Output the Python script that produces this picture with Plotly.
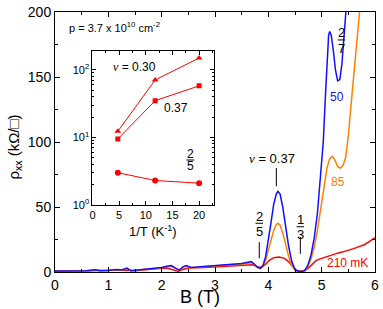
import plotly.graph_objects as go

# ---- main panel data: rho_xx (kOhm/sq) vs B (T) ----
B_50 = [0.00, 0.30, 0.60, 0.75, 0.85, 1.00, 1.15, 1.25, 1.35, 1.42, 1.55, 1.70, 1.85, 2.00, 2.10, 2.18,
        2.26, 2.33, 2.40, 2.46, 2.55, 2.70, 2.90, 3.10, 3.30, 3.50, 3.62, 3.68, 3.74, 3.80, 3.85, 3.90,
        3.95, 4.00, 4.05, 4.10, 4.15, 4.18, 4.22, 4.27, 4.32, 4.38, 4.44, 4.50, 4.56, 4.62, 4.68, 4.74,
        4.80, 4.86, 4.92, 4.98, 5.03, 5.07, 5.10, 5.13, 5.15, 5.18, 5.22, 5.26, 5.30, 5.34, 5.38, 5.42,
        5.46, 5.50]
rho_50 = [0.8, 0.8, 1.0, 1.8, 1.0, 1.2, 2.0, 1.5, 3.0, 1.0, 1.5, 2.5, 3.0, 3.5, 4.5, 5.0,
          3.0, 1.5, 4.0, 5.0, 3.5, 4.0, 5.0, 5.5, 6.0, 6.5, 7.5, 8.0, 6.0, 3.5, 2.8, 5.0,
          12, 24, 38, 52, 60, 62, 60, 50, 36, 20, 8, 2, 0.5, 0.3, 1.0, 5,
          13, 26, 45, 72, 100, 135, 165, 182, 185, 182, 170, 155, 147, 148, 160, 180,
          200, 225]

B_85 = [0.00, 0.30, 0.60, 0.75, 0.85, 1.00, 1.15, 1.25, 1.35, 1.42, 1.55, 1.70, 1.85, 2.00, 2.10, 2.18,
        2.26, 2.33, 2.40, 2.46, 2.55, 2.70, 2.90, 3.10, 3.30, 3.50, 3.62, 3.68, 3.74, 3.80, 3.85, 3.90,
        3.95, 4.00, 4.05, 4.10, 4.15, 4.18, 4.22, 4.27, 4.32, 4.38, 4.44, 4.50, 4.56, 4.62, 4.68, 4.74,
        4.80, 4.86, 4.92, 4.98, 5.04, 5.10, 5.15, 5.20, 5.25, 5.30, 5.35, 5.40, 5.45, 5.50, 5.55, 5.60,
        5.65, 5.71, 5.76]
rho_85 = [0.7, 0.7, 0.9, 1.6, 0.9, 1.1, 1.8, 1.4, 2.6, 1.0, 1.4, 2.3, 2.8, 3.2, 4.0, 4.4,
          2.8, 1.4, 3.6, 4.5, 3.3, 3.8, 4.7, 5.2, 5.6, 6.0, 6.8, 7.2, 5.6, 3.4, 3.0, 4.5,
          9, 16, 25, 32, 36.5, 37.5, 36, 30, 22, 12, 5, 1.5, 0.5, 0.3, 1.0, 4,
          10, 19, 32, 48, 65, 80, 87, 89, 86, 81, 80, 82, 88, 105, 128, 151,
          173, 200, 222]

B_210 = [0.0, 0.5, 1.0, 1.3, 1.5, 1.7, 1.9, 2.1, 2.2, 2.31, 2.4, 2.5, 2.8, 3.2, 3.5, 3.7,
         3.8, 3.87, 3.95, 4.02, 4.10, 4.20, 4.30, 4.38, 4.45, 4.52, 4.60, 4.68, 4.75, 4.82, 4.90, 5.00,
         5.10, 5.20, 5.30, 5.40, 5.50, 5.60, 5.70, 5.80, 5.90, 6.00]
rho_210 = [0.5, 0.8, 1.0, 1.5, 1.0, 2.0, 2.5, 3.0, 2.0, 0.5, 2.0, 3.0, 3.5, 4.5, 5.0, 5.5,
           4.0, 3.5, 6, 9, 11, 11.5, 10.5, 8, 4.5, 1.5, 0.5, 1.0, 3, 6, 9, 10.5,
           12, 13.5, 14.5, 15.5, 16.5, 18, 19.5, 21, 23.5, 26.5]

# ---- inset data: rho_xx (kOhm/sq) vs 1/T (1/K) ----
inv_T = [4.76, 11.76, 20.0]
rho_nu030 = [12.3, 71, 150]
rho_nu037 = [9.5, 35, 58]
rho_nu25 = [3.0, 2.3, 2.1]

x_ticks_main = [0, 1, 2, 3, 4, 5, 6]
y_ticks_main = [0, 50, 100, 150, 200]
inset_x_ticks = [0, 5, 10, 15, 20]
inset_y_ticks = [1, 10, 100]
inset_y_text = ["10<sup>0</sup>", "10<sup>1</sup>", "10<sup>2</sup>"]

BLUE = "#1010ff"
ORANGE = "#ff8000"
RED = "#ff0000"
FONT = "Liberation Sans, Arial, sans-serif"
NU = '<span style="font-family:Liberation Serif"><i>ν</i></span>'

fig = go.Figure()
fig.add_trace(go.Scatter(x=B_210, y=rho_210, mode="lines", line=dict(color=RED, width=1.5), xaxis="x", yaxis="y"))
fig.add_trace(go.Scatter(x=B_85, y=rho_85, mode="lines", line=dict(color=ORANGE, width=1.5), xaxis="x", yaxis="y"))
fig.add_trace(go.Scatter(x=B_50, y=rho_50, mode="lines", line=dict(color=BLUE, width=1.5), xaxis="x", yaxis="y"))

fig.add_trace(go.Scatter(x=inv_T, y=rho_nu030, mode="lines+markers", line=dict(color=RED, width=1),
                         marker=dict(symbol="triangle-up", size=6, color=RED), xaxis="x2", yaxis="y2"))
fig.add_trace(go.Scatter(x=inv_T, y=rho_nu037, mode="lines+markers", line=dict(color=RED, width=1),
                         marker=dict(symbol="square", size=5, color=RED), xaxis="x2", yaxis="y2"))
fig.add_trace(go.Scatter(x=inv_T, y=rho_nu25, mode="lines+markers", line=dict(color=RED, width=1),
                         marker=dict(symbol="circle", size=6, color=RED), xaxis="x2", yaxis="y2"))

axis_common = dict(showline=True, linecolor="black", linewidth=1, mirror="ticks", ticks="inside",
                   tickcolor="black", showgrid=False, zeroline=False, ticklabeloverflow="allow")

fig.update_layout(
    width=383, height=309, margin=dict(l=55, r=4, t=12, b=37),
    paper_bgcolor="white", plot_bgcolor="white", showlegend=False,
    font=dict(family=FONT, color="black"),
    xaxis=dict(range=[0, 6], tickvals=x_ticks_main, ticklen=5, tickfont=dict(size=14),
               minor=dict(dtick=0.5, ticks="inside", ticklen=3, tickcolor="black"), **axis_common),
    yaxis=dict(range=[0, 200], tickvals=y_ticks_main, ticklen=5, tickfont=dict(size=14),
               minor=dict(dtick=25, ticks="inside", ticklen=3, tickcolor="black"), **axis_common),
    xaxis2=dict(domain=[0.117, 0.497], anchor="y2", range=[0, 22.8], tickvals=inset_x_ticks, ticklen=4,
                tickfont=dict(size=11), minor=dict(dtick=2.5, ticks="inside", ticklen=2, tickcolor="black"),
                **axis_common),
    yaxis2=dict(domain=[0.258, 0.85], anchor="x2", type="log", range=[0, 2.28], tickvals=inset_y_ticks,
                ticktext=inset_y_text, ticklen=4, tickfont=dict(size=11),
                minor=dict(ticks="inside", ticklen=2, tickcolor="black", dtick="D1"), **axis_common),
)

ann = []
def A(text, x, y, size=12, color="black", xref="x", yref="y", **kw):
    d = dict(text=text, x=x, y=y, xref=xref, yref=yref, showarrow=False,
             xanchor="center", yanchor="middle",
             font=dict(size=size, color=color, family=FONT))
    d.update(kw)
    ann.append(d)

A("p = 3.7 x 10<sup>10</sup> cm<sup>-2</sup>", 0.22, 188.5, size=11, xanchor="left")
A("2", 5.37, 184, size=13)
A("7", 5.37, 172, size=13)
A("50", 5.29, 134.8, size=12, color=BLUE)
A("85", 5.31, 69, size=12, color=ORANGE)
A("210 mK", 5.49, 6.9, size=12, color=RED)
A(NU + " = 0.37", 4.06, 87, size=13)
A("2", 3.83, 43, size=13)
A("5", 3.83, 31.5, size=13)
A("1", 4.60, 40.5, size=13)
A("3", 4.60, 29, size=13)
# titles
A("B (T)", 0.454, -0.095, size=18, xref="paper", yref="paper")
A("ρ<sub>xx</sub> (kΩ/□)", -0.127, 0.48, size=15, xref="paper", yref="paper", textangle=-90)
# inset texts
A(NU + " = 0.30", (135 - 55) / 324, (272 - 66.7) / 260, size=12, xref="paper", yref="paper")
A("0.37", (177.5 - 55) / 324, (272 - 108.3) / 260, size=12, xref="paper", yref="paper")
A("2", (191.7 - 55) / 324, (272 - 154) / 260, size=12, xref="paper", yref="paper")
A("5", (191.7 - 55) / 324, (272 - 166) / 260, size=12, xref="paper", yref="paper")
A("1/T (K<sup>-1</sup>)", (154 - 55) / 324, (272 - 230.7) / 260, size=13, xref="paper", yref="paper")
fig.update_layout(annotations=ann)

shapes = []
def L(x0, y0, x1, y1, xref="x", yref="y"):
    shapes.append(dict(type="line", x0=x0, y0=y0, x1=x1, y1=y1, xref=xref, yref=yref,
                       line=dict(color="black", width=1)))

L(5.30, 178.5, 5.44, 178.5)      # 2/7 bar
L(3.76, 37.5, 3.90, 37.5)        # 2/5 bar
L(3.83, 23, 3.83, 10.5)          # 2/5 marker
L(4.53, 34.8, 4.67, 34.8)        # 1/3 bar
L(4.60, 27, 4.60, 14)            # 1/3 marker
L(4.15, 80, 4.15, 66)            # nu=0.37 marker
L((188 - 55) / 324, (272 - 160) / 260, (196 - 55) / 324, (272 - 160) / 260, xref="paper", yref="paper")
fig.update_layout(shapes=shapes)

fig.write_html("out.html", config={"displayModeBar": False},
               post_script="document.body.style.margin='0';document.body.style.overflow='hidden';")
